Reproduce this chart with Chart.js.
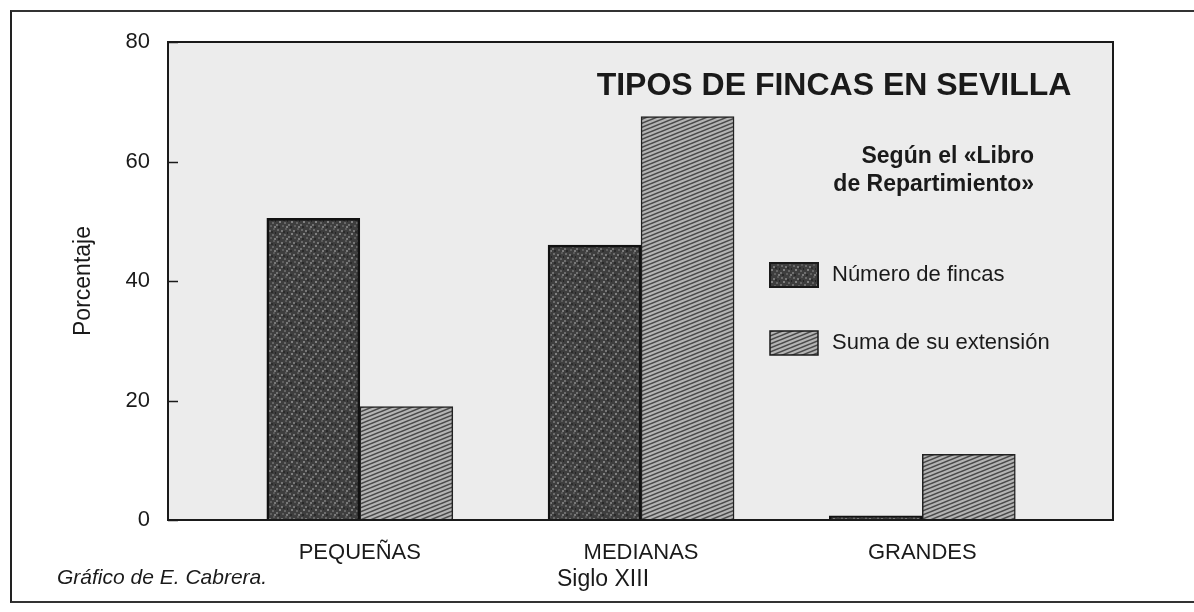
<!DOCTYPE html>
<html>
<head>
<meta charset="utf-8">
<script src="https://cdn.jsdelivr.net/npm/chart.js@4/dist/chart.umd.min.js"></script>
<style>
  html, body { margin: 0; padding: 0; background: #fff; }
  #wrap { position: relative; width: 1194px; height: 612px; overflow: hidden; }
  #frame { position: absolute; left: 10px; top: 10px; width: 1200px; height: 593px;
           border-left: 2px solid #222; border-top: 2px solid #333; border-bottom: 2px solid #333; box-sizing: border-box; }
  canvas { position: absolute; left: 0; top: 0; }
</style>
</head>
<body>
<div id="wrap">
  <div id="frame"></div>
  <canvas id="myChart" width="1194" height="612"></canvas>
</div>
<script>
// data
const categories = ["PEQUEÑAS", "MEDIANAS", "GRANDES"];
const numeroFincas = [50.5, 46, 0.7];
const sumaExtension = [19, 67.5, 11];
const yTicks = [0, 20, 40, 60, 80];

const FONT = "'Liberation Sans', Arial, Helvetica, sans-serif";

// fills for the bars
function speckle() {
  const c = document.createElement('canvas');
  c.width = 12; c.height = 12;
  const g = c.getContext('2d');
  g.fillStyle = '#3e3e3e';
  g.fillRect(0, 0, 12, 12);
  const pts = [[1,1,'#6a6a6a'],[5,2,'#777'],[9,0,'#5a5a5a'],[3,5,'#808080'],[8,6,'#666'],
               [0,8,'#707070'],[6,9,'#5e5e5e'],[10,10,'#7a7a7a'],[2,10,'#2a2a2a'],[11,4,'#262626'],[7,3,'#2c2c2c']];
  pts.forEach(p => { g.fillStyle = p[2]; g.fillRect(p[0], p[1], 2, 2); });
  return g.createPattern(c, 'repeat');
}
function hatch() {
  const c = document.createElement('canvas');
  c.width = 10; c.height = 4;
  const g = c.getContext('2d');
  g.fillStyle = '#b4b4b4';
  g.fillRect(0, 0, 10, 4);
  g.strokeStyle = '#4a4a4a';
  g.lineWidth = 1.6;
  for (let k = -1; k <= 1; k++) {
    g.beginPath();
    g.moveTo(-1, 4 + 0.4 + k * 4);
    g.lineTo(11, -0.4 + k * 4);
    g.stroke();
  }
  return g.createPattern(c, 'repeat');
}
const darkFill = speckle();
const hatchFill = hatch();

const extras = {
  id: 'extras',
  beforeDatasetsDraw(chart) {
    const {ctx, chartArea: a} = chart;
    ctx.save();
    ctx.fillStyle = '#ececec';
    ctx.fillRect(a.left, a.top, a.right - a.left, a.bottom - a.top);
    ctx.restore();
  },
  afterDraw(chart) {
    const {ctx, chartArea: a} = chart;
    const y = chart.scales.y;
    ctx.save();
    ctx.strokeStyle = '#1a1a1a';
    ctx.lineWidth = 2;
    ctx.strokeRect(a.left, a.top, a.right - a.left, a.bottom - a.top);

    // short inward tick marks on the value axis
    ctx.lineWidth = 1.5;
    y.ticks.forEach(t => {
      const py = Math.round(y.getPixelForValue(t.value)) + 0.5;
      ctx.beginPath();
      ctx.moveTo(a.left, py);
      ctx.lineTo(a.left + 10, py);
      ctx.stroke();
    });

    ctx.fillStyle = '#1a1a1a';
    ctx.textBaseline = 'middle';
    ctx.textAlign = 'center';
    ctx.font = 'bold 32px ' + FONT;
    ctx.fillText('TIPOS DE FINCAS EN SEVILLA', 834, 86);

    ctx.textAlign = 'right';
    ctx.font = 'bold 23px ' + FONT;
    ctx.fillText('Según el «Libro', 1034, 157);
    ctx.fillText('de Repartimiento»', 1034, 185);

    // legend
    const items = [
      {label: chart.data.datasets[0].label, fill: darkFill, y: 275, lw: 2},
      {label: chart.data.datasets[1].label, fill: hatchFill, y: 343, lw: 1.5}
    ];
    ctx.textAlign = 'left';
    ctx.font = '22px ' + FONT;
    items.forEach(it => {
      ctx.fillStyle = it.fill;
      ctx.fillRect(770, it.y - 12, 48, 24);
      ctx.strokeStyle = '#1a1a1a';
      ctx.lineWidth = it.lw;
      ctx.strokeRect(770, it.y - 12, 48, 24);
      ctx.fillStyle = '#1a1a1a';
      ctx.fillText(it.label, 832, it.y);
    });

    ctx.textAlign = 'center';
    ctx.font = '23px ' + FONT;
    ctx.fillText('Siglo XIII', 603, 580);
    ctx.textAlign = 'left';
    ctx.font = 'italic 21px ' + FONT;
    ctx.fillText('Gráfico de E. Cabrera.', 57, 578);
    ctx.restore();
  }
};

const ctx = document.getElementById('myChart').getContext('2d');
const chart = new Chart(ctx, {
  type: 'bar',
  data: {
    datasets: [{
      label: 'Número de fincas',
      data: numeroFincas.map((v, i) => ({x: i + 1, y: v})),
      backgroundColor: darkFill,
      borderColor: '#111',
      borderWidth: 2.5
    }, {
      label: 'Suma de su extensión',
      data: sumaExtension.map((v, i) => ({x: i + 1, y: v})),
      backgroundColor: hatchFill,
      borderColor: '#222',
      borderWidth: 1.5
    }]
  },
  options: {
    responsive: false,
    animation: false,
    barThickness: 93,
    layout: {padding: {top: 42, right: 81, left: 0, bottom: 0}},
    plugins: {legend: {display: false}, tooltip: {enabled: false}},
    scales: {
      x: {
        type: 'linear',
        offset: false,
        min: 0.318,
        max: 3.678,
        afterBuildTicks: s => { s.ticks = categories.map((c, i) => ({value: i + 1})); },
        afterFit: s => { s.height = 92; },
        grid: {display: false, drawTicks: false, offset: false},
        border: {display: false},
        ticks: {
          callback: v => categories[v - 1],
          padding: 20,
          maxRotation: 0,
          color: '#1a1a1a',
          font: {family: FONT, size: 22}
        }
      },
      y: {
        min: 0,
        max: 80,
        afterBuildTicks: s => { s.ticks = yTicks.map(v => ({value: v})); },
        afterFit: s => { s.width = 168; },
        grid: {display: false, drawTicks: false},
        border: {display: false},
        ticks: {padding: 18, color: '#1a1a1a', font: {family: FONT, size: 22}},
        title: {display: true, text: 'Porcentaje', color: '#1a1a1a', font: {family: FONT, size: 23}, padding: {top: 70, bottom: 0}}
      }
    }
  },
  plugins: [extras]
});
</script>
</body>
</html>
